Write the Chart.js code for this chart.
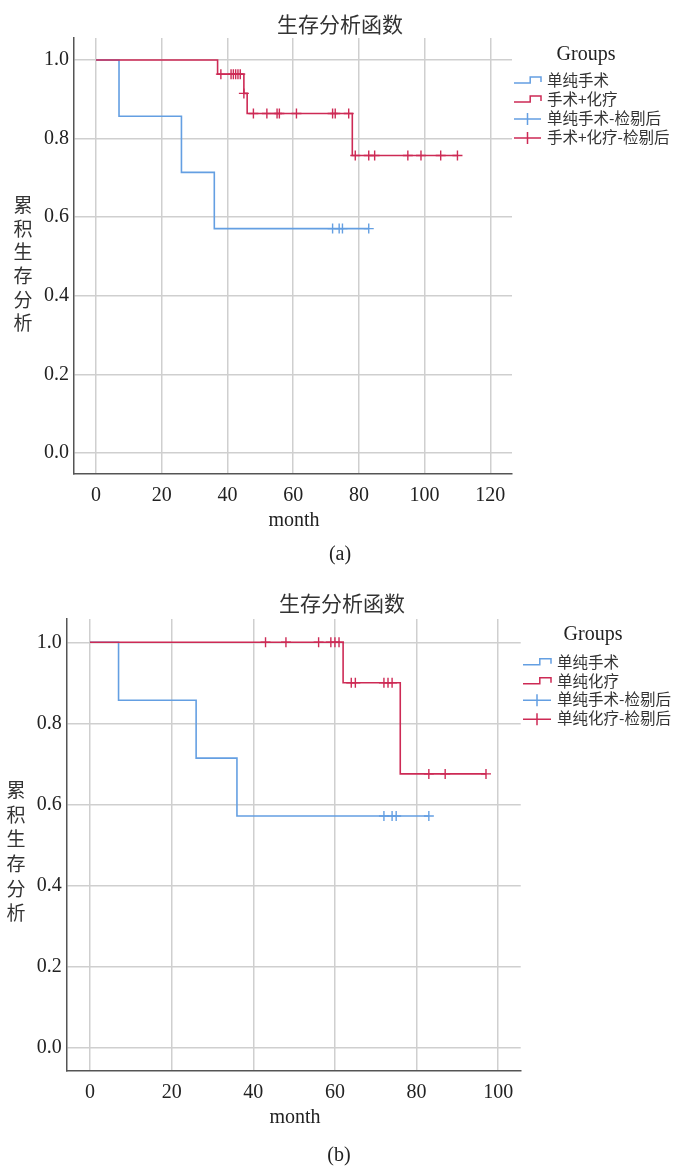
<!DOCTYPE html>
<html>
<head>
<meta charset="utf-8">
<script src="https://cdn.jsdelivr.net/npm/chart.js@4.4.1/dist/chart.umd.min.js"></script>
<style>
  html, body { margin: 0; padding: 0; background: #fff; }
  #wrap { position: relative; width: 677px; height: 1169px; }
  canvas { position: absolute; left: 0; }
  #chartA { top: 0; }
  #chartB { top: 580px; }
</style>
</head>
<body>
<div id="wrap">
  <canvas id="chartA" width="677" height="580"></canvas>
  <canvas id="chartB" width="677" height="589"></canvas>
</div>
<script>
// tick labels
var xTicksA = [0, 20, 40, 60, 80, 100, 120];
var xTicksB = [0, 20, 40, 60, 80, 100];
var yTicks = [0, 0.2, 0.4, 0.6, 0.8, 1.0];

// 单纯手术 (same group in both panels)
var surgTime = [0, 7, 26, 36, 83];
var surgSurv = [1, 0.857, 0.714, 0.571, 0.571];
var surgCensorTime = [72, 74, 75, 83];
var surgCensorSurv = [0.571, 0.571, 0.571, 0.571];

// 手术+化疗 (panel a)
var comboTime = [0, 37, 45, 46, 78, 110];
var comboSurv = [1, 0.964, 0.915, 0.864, 0.757, 0.757];
var comboCensorTime = [38, 41.1, 41.8, 42.5, 43.2, 43.9, 45, 47.9, 52, 55.1, 55.8, 61, 72, 72.8, 76.9, 78.9, 83, 84.8, 94.9, 98.9, 104.9, 110];
var comboCensorSurv = [0.964, 0.964, 0.964, 0.964, 0.964, 0.964, 0.915, 0.864, 0.864, 0.864, 0.864, 0.864, 0.864, 0.864, 0.864, 0.757, 0.757, 0.757, 0.757, 0.757, 0.757, 0.757];

// 单纯化疗 (panel b)
var chemoTime = [0, 62, 76, 97];
var chemoSurv = [1, 0.9, 0.675, 0.675];
var chemoCensorTime = [43, 48, 56, 59, 60, 61, 64, 65, 72, 73, 74, 83, 87, 97];
var chemoCensorSurv = [1, 1, 1, 1, 1, 1, 0.9, 0.9, 0.9, 0.9, 0.9, 0.675, 0.675, 0.675];

var labelsA = ['单纯手术', '手术+化疗', '单纯手术-检剔后', '手术+化疗-检剔后'];
var labelsB = ['单纯手术', '单纯化疗', '单纯手术-检剔后', '单纯化疗-检剔后'];

var BLUE = '#649fe2';
var RED = '#cd2a55';
var SERIF = '"Liberation Serif", "Times New Roman", serif';
var CJK = '"Noto Sans CJK SC", "Noto Sans", sans-serif';

function pts(xs, ys) {
    var out = [];
    for (var i = 0; i < xs.length; i++) out.push({x: xs[i], y: ys[i]});
    return out;
}

// titles, axis titles, caption and the Groups legend
var decoPlugin = {
    id: 'deco',
    afterDraw: function(chart, args, o) {
        var ctx = chart.ctx;
        ctx.save();
        ctx.fillStyle = '#333';
        ctx.textBaseline = 'middle';
        ctx.textAlign = 'center';

        ctx.font = '21px ' + CJK;
        ctx.fillText('生存分析函数', o.titleX, o.titleY);

        ctx.font = '19px ' + CJK;
        var ych = '累积生存分析'.split('');
        for (var i = 0; i < ych.length; i++) {
            ctx.fillText(ych[i], o.yTitleX, o.yTitleY + i * o.yTitleStep);
        }

        ctx.fillStyle = '#222';
        ctx.font = '20px ' + SERIF;
        ctx.fillText('month', o.monthX, o.monthY);
        ctx.fillText(o.caption, o.capX, o.capY);
        ctx.fillText('Groups', o.groupsX, o.groupsY);

        // legend items
        var cols = [BLUE, RED, BLUE, RED];
        ctx.textAlign = 'left';
        ctx.font = '15.5px ' + CJK;
        for (var k = 0; k < o.labels.length; k++) {
            var y = o.legY[k];
            var x0 = o.iconX, x1 = o.iconX + o.iconW;
            ctx.strokeStyle = cols[k];
            ctx.lineWidth = 1.5;
            ctx.beginPath();
            if (k < 2) {
                var xm = x0 + o.iconW * 0.6;
                ctx.moveTo(x0, y + 3);
                ctx.lineTo(xm, y + 3);
                ctx.lineTo(xm, y - 3);
                ctx.lineTo(x1, y - 3);
                ctx.lineTo(x1, y + 2);
            } else {
                var xc = (x0 + x1) / 2;
                ctx.moveTo(x0, y + 1);
                ctx.lineTo(x1, y + 1);
                ctx.moveTo(xc, y - 5);
                ctx.lineTo(xc, y + 7);
            }
            ctx.stroke();
            ctx.fillStyle = '#333';
            ctx.fillText(o.labels[k], o.textX, y);
        }
        ctx.restore();
    }
};

function makeChart(id, d) {
    var ctx = document.getElementById(id).getContext('2d');
    var xH = 40;
    return new Chart(ctx, {
        type: 'scatter',
        data: {
            datasets: [
                {
                    label: d.labels[1],
                    data: pts(d.redTime, d.redSurv),
                    showLine: true, stepped: true,
                    borderColor: RED, borderWidth: 1.6,
                    pointRadius: 0, fill: false, order: 0
                },
                {
                    label: d.labels[0],
                    data: pts(surgTime, surgSurv),
                    showLine: true, stepped: true,
                    borderColor: BLUE, borderWidth: 1.6,
                    pointRadius: 0, fill: false, order: 1
                },
                {
                    label: d.labels[3],
                    data: pts(d.redCensorTime, d.redCensorSurv),
                    showLine: false,
                    pointStyle: 'cross', pointRadius: 5,
                    borderColor: RED, backgroundColor: RED, borderWidth: 1.4, order: 0
                },
                {
                    label: d.labels[2],
                    data: pts(surgCensorTime, surgCensorSurv),
                    showLine: false,
                    pointStyle: 'cross', pointRadius: 5,
                    borderColor: BLUE, backgroundColor: BLUE, borderWidth: 1.4, order: 1
                }
            ]
        },
        options: {
            responsive: false,
            animation: false,
            layout: { padding: { left: 0, right: d.area.right, top: d.area.top, bottom: d.area.bottom - xH } },
            plugins: {
                legend: { display: false },
                tooltip: { enabled: false },
                deco: d.deco
            },
            scales: {
                x: {
                    type: 'linear',
                    min: d.xMin, max: d.xMax,
                    afterFit: function(s) { s.height = xH; },
                    afterBuildTicks: function(s) {
                        s.ticks = d.xTicks.map(function(v) { return {value: v}; });
                    },
                    ticks: {
                        autoSkip: false,
                        maxRotation: 0,
                        padding: 10,
                        color: '#222',
                        font: { family: SERIF, size: 20 },
                        callback: function(v) { return String(v); }
                    },
                    grid: { color: '#cfcfcf', lineWidth: 1.5, drawTicks: false },
                    border: { color: '#555', width: 1.5 }
                },
                y: {
                    type: 'linear',
                    min: d.yMin, max: d.yMax,
                    afterFit: function(s) { s.width = d.area.left; },
                    afterBuildTicks: function(s) {
                        s.ticks = yTicks.map(function(v) { return {value: v}; });
                    },
                    ticks: {
                        autoSkip: false,
                        padding: 5,
                        color: '#222',
                        font: { family: SERIF, size: 20 },
                        callback: function(v) { return v.toFixed(1); }
                    },
                    grid: { color: '#cfcfcf', lineWidth: 1.5, drawTicks: false },
                    border: { color: '#555', width: 1.5 }
                }
            }
        },
        plugins: [decoPlugin]
    });
}

makeChart('chartA', {
    labels: labelsA,
    redTime: comboTime, redSurv: comboSurv,
    redCensorTime: comboCensorTime, redCensorSurv: comboCensorSurv,
    xTicks: xTicksA,
    xMin: -6.7, xMax: 126.6, yMin: -0.0534, yMax: 1.056,
    area: { left: 74, right: 165, top: 38, bottom: 106 },
    deco: {
        titleX: 340, titleY: 24,
        yTitleX: 23, yTitleY: 205, yTitleStep: 23.6,
        monthX: 294, monthY: 521,
        caption: '(a)', capX: 340, capY: 555,
        groupsX: 586, groupsY: 55,
        labels: labelsA,
        legY: [80, 99, 118, 137],
        iconX: 514, iconW: 27, textX: 547
    }
});

makeChart('chartB', {
    labels: labelsB,
    redTime: chemoTime, redSurv: chemoSurv,
    redCensorTime: chemoCensorTime, redCensorSurv: chemoCensorSurv,
    xTicks: xTicksB,
    xMin: -5.7, xMax: 105.5, yMin: -0.0585, yMax: 1.0575,
    area: { left: 66.7, right: 156.3, top: 39, bottom: 98 },
    deco: {
        titleX: 342, titleY: 23,
        yTitleX: 16, yTitleY: 210, yTitleStep: 24.6,
        monthX: 295, monthY: 538,
        caption: '(b)', capX: 339, capY: 576,
        groupsX: 593, groupsY: 55,
        labels: labelsB,
        legY: [81.7, 100.7, 119.3, 138.3],
        iconX: 523, iconW: 28, textX: 557
    }
});
</script>
</body>
</html>
